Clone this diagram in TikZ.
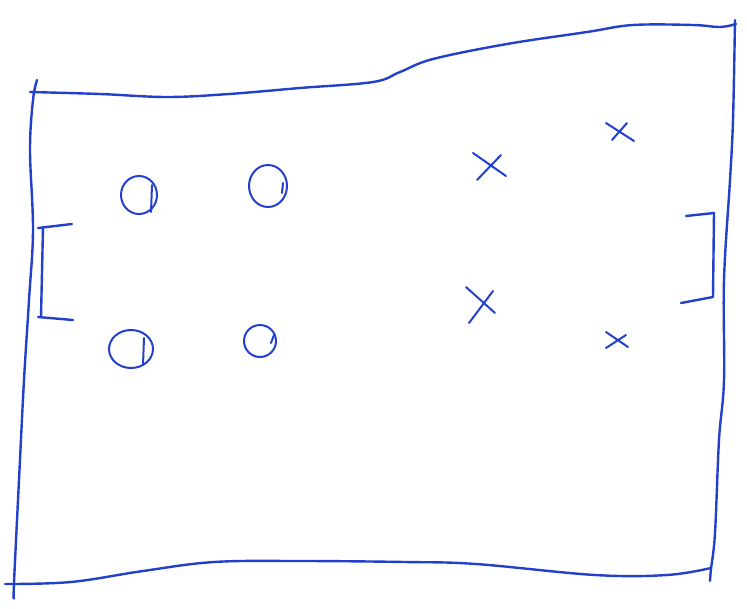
\documentclass[tikz,border=0pt]{standalone}
\usepackage{tikz}

\definecolor{penblue}{RGB}{34,64,205}
\tikzset{every picture/.style={line width=0.75pt}}
\tikzset{pen/.style={color=penblue, line width=1.8, line cap=round, line join=round}}

\begin{document}
\begin{tikzpicture}[x=0.75pt,y=0.75pt,yscale=-1,xscale=1]
%set diagram left start at 0, and has height of 608
\useasboundingbox (0,0) rectangle (747,608);

%Shape: Top line
\draw [pen] plot [smooth, tension=0.6] coordinates {(30,92) (100,94) (167,97) (229,94) (300,88) (373,82) (400,72) (433,59) (507,44) (587,32) (633,25) (693,25) (720,27) (736,24)} ;
%Shape: Left line
\draw [pen] plot [smooth, tension=0.6] coordinates {(37,80) (33,100) (30,150) (33,230) (29,300) (24,380) (19,480) (14,583) (14,598)} ;
%Shape: Right line
\draw [pen] plot [smooth, tension=0.6] coordinates {(735,20) (733,120) (730,180) (724,280) (724,380) (719,440) (715,533) (711,569) (710,581)} ;
%Shape: Bottom line
\draw [pen] plot [smooth, tension=0.6] coordinates {(5,584) (71,582) (143,571) (214,562) (300,561) (405,562) (476,564) (595,575) (667,575) (711,568)} ;

%Shape: Left goal
\draw [pen] (72,224) -- (38,228) ;
\draw [pen] (43,228) -- (41,317) ;
\draw [pen] (38,317) -- (73,320) ;
%Shape: Right goal
\draw [pen] (686,216) -- (714,213) -- (713,297) -- (681,303) ;

%Shape: Circle
\draw [pen, line width=1.5] (139,195) ellipse [x radius=18, y radius=19] ;
\draw [pen, line width=1.5] (152,185) -- (151,212) ;
%Shape: Circle
\draw [pen, line width=1.5] (268,186) ellipse [x radius=19, y radius=21] ;
\draw [pen, line width=1.5] (283,183) -- (282,193) ;
%Shape: Circle
\draw [pen, line width=1.5] (131,349) ellipse [x radius=22, y radius=19] ;
\draw [pen, line width=1.5] (144,338) -- (143,365) ;
%Shape: Circle
\draw [pen, line width=1.5] (260,341) ellipse [x radius=16, y radius=16] ;
\draw [pen, line width=1.5] (274,335) -- (271,343) ;

%Shape: Cross
\draw [pen, line width=1.5] (473,153) -- (506,176) (477,180) -- (501,155) ;
%Shape: Cross
\draw [pen, line width=1.5] (606,123) -- (634,141) (612,140) -- (627,123) ;
%Shape: Cross
\draw [pen, line width=1.5] (466,287) -- (495,313) (469,323) -- (493,291) ;
%Shape: Cross
\draw [pen, line width=1.5] (606,332) -- (628,347) (606,348) -- (626,335) ;

\end{tikzpicture}
\end{document}
